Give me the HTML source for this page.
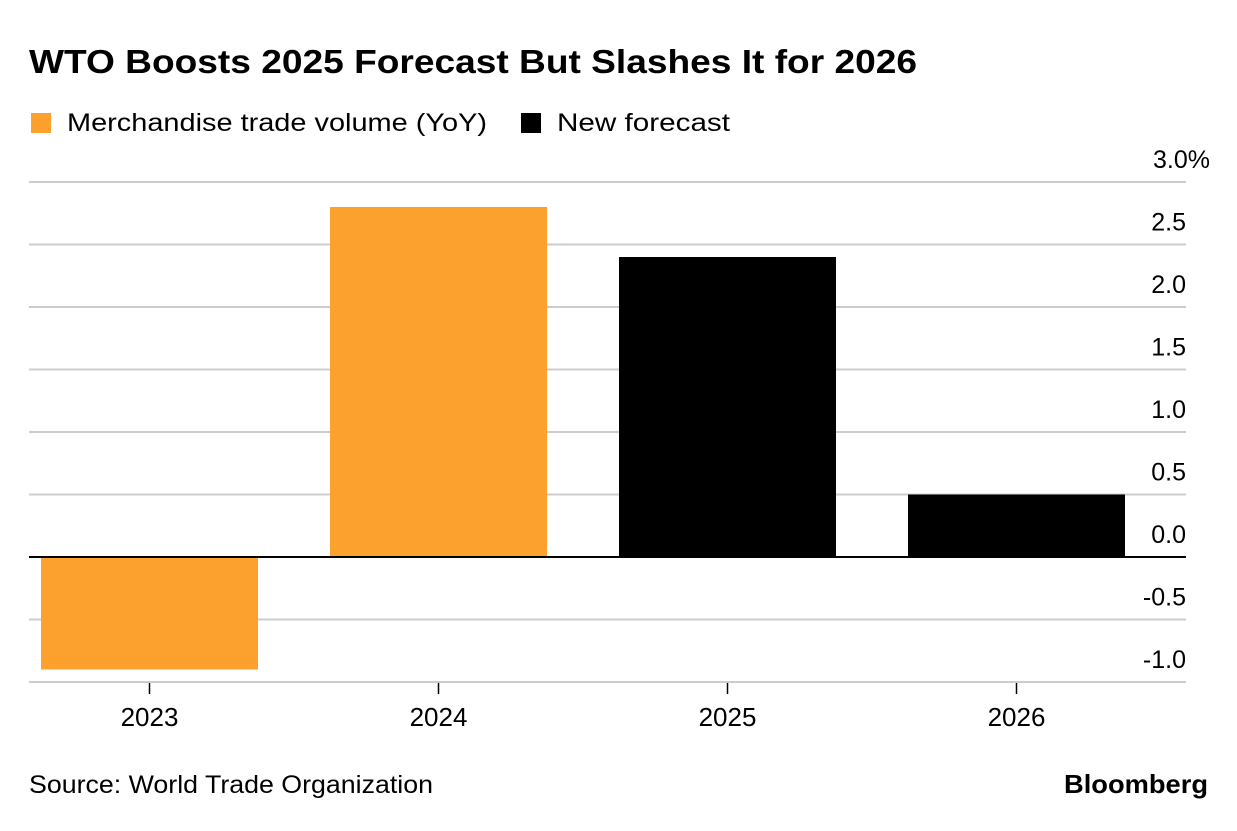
<!DOCTYPE html>
<html><head><meta charset="utf-8"><style>
body{margin:0;background:#fff;width:1237px;height:826px;overflow:hidden;font-family:"Liberation Sans",sans-serif}
</style></head><body>
<svg width="1237" height="826" font-family="Liberation Sans, sans-serif">
<text x="29" y="73" font-size="33" font-weight="bold" fill="#000" textLength="888" lengthAdjust="spacingAndGlyphs">WTO Boosts 2025 Forecast But Slashes It for 2026</text>
<g>
<rect x="31" y="113" width="20" height="20" fill="#fca12d"/>
<text x="67" y="131" font-size="25" fill="#000" textLength="420" lengthAdjust="spacingAndGlyphs">Merchandise trade volume (YoY)</text>
<rect x="521" y="113" width="20" height="20" fill="#000"/>
<text x="557" y="131" font-size="25" fill="#000" textLength="173" lengthAdjust="spacingAndGlyphs">New forecast</text>
</g>
<g id="grid"></g><g id="bars"></g><g id="axes"></g>
<text x="29" y="793" font-size="25" fill="#000" textLength="404" lengthAdjust="spacingAndGlyphs">Source: World Trade Organization</text>
<text x="1208" y="793" font-size="26" font-weight="bold" text-anchor="end" fill="#000" textLength="144" lengthAdjust="spacingAndGlyphs">Bloomberg</text>
</svg>
<script>
const categories=["2023","2024","2025","2026"];
const values=[-0.9,2.8,2.4,0.5];
const seriesType=["actual","actual","forecast","forecast"];
const yTicks=[3.0,2.5,2.0,1.5,1.0,0.5,0.0,-0.5,-1.0];
const yTickLabels=["3.0%","2.5","2.0","1.5","1.0","0.5","0.0","-0.5","-1.0"];
const NS="http://www.w3.org/2000/svg";
const L=29,R=1186,y0=557,ppu=125;
const y=v=>y0-v*ppu;
const step=289,first=149.5;
const x=i=>first+step*i;
function mk(t,a,p){const e=document.createElementNS(NS,t);for(const k in a)e.setAttribute(k,a[k]);p.appendChild(e);return e;}
const g=document.getElementById('grid'),b=document.getElementById('bars'),ax=document.getElementById('axes');
yTicks.forEach((v,i)=>{
 if(v!==0){const l=mk('line',{x1:L,x2:R,y1:y(v),y2:y(v),stroke:'#ccc','stroke-width':2},g);
 
 }
 const t=mk('text',{x:i===0?1210:1186,y:y(v)-14,'font-size':25,'text-anchor':'end',fill:'#000'},ax);
 t.textContent=yTickLabels[i];
 
 
});
const bw=217;
values.forEach((v,i)=>{
 const r=mk('rect',{x:x(i)-bw/2,y:Math.min(y(v),y0),width:bw,height:Math.abs(y(v)-y0),fill:seriesType[i]==='actual'?'#fca12d':'#000'},b);
 
 
 const tk=mk('line',{x1:x(i),x2:x(i),y1:y(-1),y2:y(-1)+12,stroke:'#000','stroke-width':1.5},ax);
 
 
 const t=mk('text',{x:x(i),y:726,'font-size':26,'text-anchor':'middle',fill:'#000'},ax);
 t.textContent=categories[i];
 
 
});
const z=mk('line',{x1:L,x2:R,y1:y0,y2:y0,stroke:'#000','stroke-width':2},ax);


const bl=mk('line',{x1:L,x2:R,y1:y(-1),y2:y(-1),stroke:'#ccc','stroke-width':2},ax);


</script>
</body></html>
